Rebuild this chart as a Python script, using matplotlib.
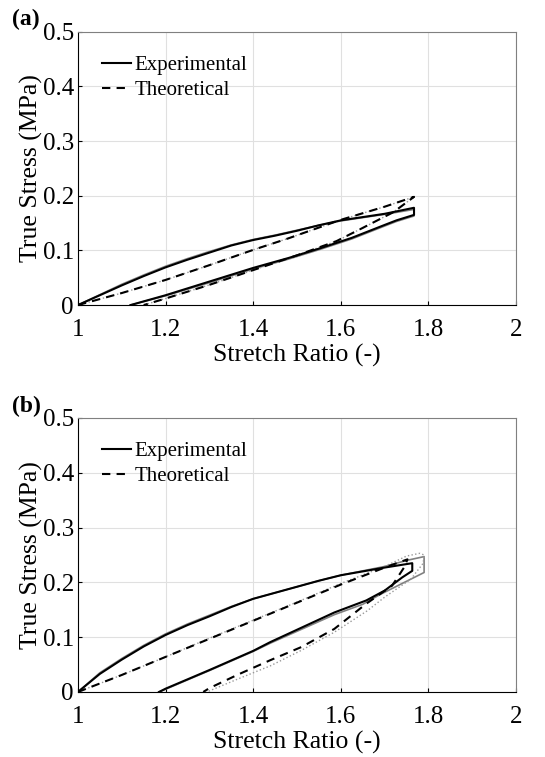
import matplotlib.pyplot as plt
import numpy as np

plt.rcParams["font.family"] = ["Liberation Serif", "DejaVu Serif"]

# ---- panel (a) ----
a_exp_x = [1.00, 1.05, 1.10, 1.15, 1.20, 1.25, 1.30, 1.35, 1.40, 1.45, 1.50, 1.55,
           1.60, 1.65, 1.70, 1.767, 1.767,
           1.727, 1.698, 1.625, 1.553, 1.48, 1.40, 1.30, 1.20, 1.12]
a_exp_y = [0.000, 0.018, 0.036, 0.053, 0.069, 0.083, 0.096, 0.109, 0.119, 0.127, 0.136, 0.146,
           0.155, 0.161, 0.167, 0.178, 0.165,
           0.155, 0.146, 0.123, 0.104, 0.086, 0.068, 0.043, 0.018, 0.000]
a_exp2_x = [1.00, 1.05, 1.10, 1.15, 1.20, 1.25, 1.30, 1.35, 1.40, 1.45, 1.50, 1.55,
            1.60, 1.65, 1.70, 1.767, 1.767,
            1.727, 1.698, 1.625, 1.553, 1.48, 1.40, 1.30, 1.20, 1.12]
a_exp2_y = [0.000, 0.019, 0.038, 0.055, 0.071, 0.085, 0.098, 0.110, 0.120, 0.128, 0.137, 0.146,
            0.154, 0.160, 0.166, 0.175, 0.163,
            0.153, 0.144, 0.121, 0.102, 0.084, 0.066, 0.041, 0.017, 0.000]
a_th_x = [1.00, 1.10, 1.20, 1.30, 1.40, 1.48, 1.60, 1.70, 1.767, 1.72, 1.647,
          1.59, 1.50, 1.40, 1.30, 1.20, 1.15]
a_th_y = [0.000, 0.022, 0.046, 0.073, 0.101, 0.122, 0.156, 0.180, 0.198, 0.170, 0.140,
          0.117, 0.091, 0.064, 0.037, 0.012, 0.000]

# ---- panel (b) ----
b_exp_x = [1.00, 1.05, 1.10, 1.15, 1.20, 1.25, 1.30, 1.35, 1.40, 1.45, 1.50, 1.55,
           1.60, 1.65, 1.70, 1.763, 1.763,
           1.74, 1.70, 1.658, 1.585, 1.512, 1.439, 1.40, 1.30, 1.20, 1.185]
b_exp_y = [0.000, 0.033, 0.059, 0.083, 0.104, 0.122, 0.138, 0.155, 0.170, 0.181, 0.192, 0.203,
           0.213, 0.220, 0.227, 0.235, 0.221,
           0.209, 0.185, 0.167, 0.145, 0.118, 0.091, 0.075, 0.040, 0.006, 0.000]
b_exp2_x = [1.00, 1.05, 1.10, 1.15, 1.20, 1.25, 1.30, 1.35, 1.40, 1.45, 1.50, 1.55,
            1.60, 1.65, 1.70, 1.75, 1.79, 1.79,
            1.745, 1.72, 1.69, 1.65, 1.585, 1.512, 1.439, 1.40, 1.30, 1.20, 1.185]
b_exp2_y = [0.000, 0.035, 0.061, 0.085, 0.106, 0.124, 0.140, 0.156, 0.170, 0.181, 0.192, 0.203,
            0.213, 0.221, 0.229, 0.240, 0.247, 0.218,
            0.200, 0.190, 0.178, 0.160, 0.141, 0.115, 0.089, 0.074, 0.039, 0.005, 0.000]
b_th_x = [1.00, 1.10, 1.20, 1.30, 1.40, 1.50, 1.60, 1.70, 1.752, 1.745, 1.717,
          1.658, 1.585, 1.51, 1.439, 1.366, 1.30, 1.286]
b_th_y = [0.000, 0.031, 0.064, 0.097, 0.130, 0.163, 0.196, 0.227, 0.242, 0.228, 0.194,
          0.161, 0.115, 0.082, 0.058, 0.032, 0.007, 0.000]
b_th2_x = [1.00, 1.10, 1.20, 1.30, 1.40, 1.50, 1.60, 1.70, 1.75, 1.78, 1.79, 1.788,
           1.76, 1.70, 1.66, 1.585, 1.51, 1.44, 1.366, 1.30, 1.295]
b_th2_y = [0.000, 0.031, 0.064, 0.098, 0.131, 0.164, 0.198, 0.229, 0.248, 0.253, 0.250, 0.235,
           0.206, 0.173, 0.148, 0.109, 0.076, 0.048, 0.024, 0.002, 0.000]

panels = [
    ("(a)", [0.143, 0.597, 0.804, 0.361],
     (a_exp2_x, a_exp2_y), (a_exp_x, a_exp_y), (a_th_x, a_th_y), (a_th_x, a_th_y)),
    ("(b)", [0.143, 0.0859, 0.804, 0.362],
     (b_exp2_x, b_exp2_y), (b_exp_x, b_exp_y), (b_th2_x, b_th2_y), (b_th_x, b_th_y)),
]

fig = plt.figure(figsize=(5.45, 7.57), dpi=100)

for tag, rect, exp2, exp1, th2, th1 in panels:
    ax = fig.add_axes(rect)
    # gray: second specimen / fit, black drawn on top
    ax.plot(*exp2, color="0.5", lw=1.2)
    ax.plot(*th2, color="0.6", lw=1.0, ls=":")
    ax.plot(*exp1, color="black", lw=1.5, label="Experimental")
    ax.plot(*th1, color="black", lw=1.5, ls=(0, (4, 3)), label="Theoretical")

    ax.set_xlim(1, 2)
    ax.set_ylim(0, 0.5)
    ax.set_xticks(np.arange(1, 2.01, 0.2))
    ax.set_xticklabels(["1", "1.2", "1.4", "1.6", "1.8", "2"])
    ax.set_yticks(np.arange(0, 0.51, 0.1))
    ax.set_yticklabels(["0", "0.1", "0.2", "0.3", "0.4", "0.5"])
    ax.tick_params(direction="in", length=3, labelsize=18)
    ax.tick_params(axis="x", pad=10)
    ax.tick_params(axis="y", pad=3)
    ax.grid(True, color="0.88", lw=0.8)
    for s in ("top", "right"):
        ax.spines[s].set_color("0.5")
    ax.set_xlabel("Stretch Ratio (-)", fontsize=18.5, labelpad=2)
    ax.set_ylabel("True Stress (MPa)", fontsize=18.5, labelpad=0)
    ax.legend(loc="upper left", frameon=False, fontsize=15, handlelength=1.4,
              handletextpad=0.15, labelspacing=0.25, borderaxespad=0.75)
    ax.text(-0.15, 1.005, tag, transform=ax.transAxes, fontsize=17,
            fontweight="bold", ha="left", va="bottom")

fig.savefig("out.png", dpi=100)
